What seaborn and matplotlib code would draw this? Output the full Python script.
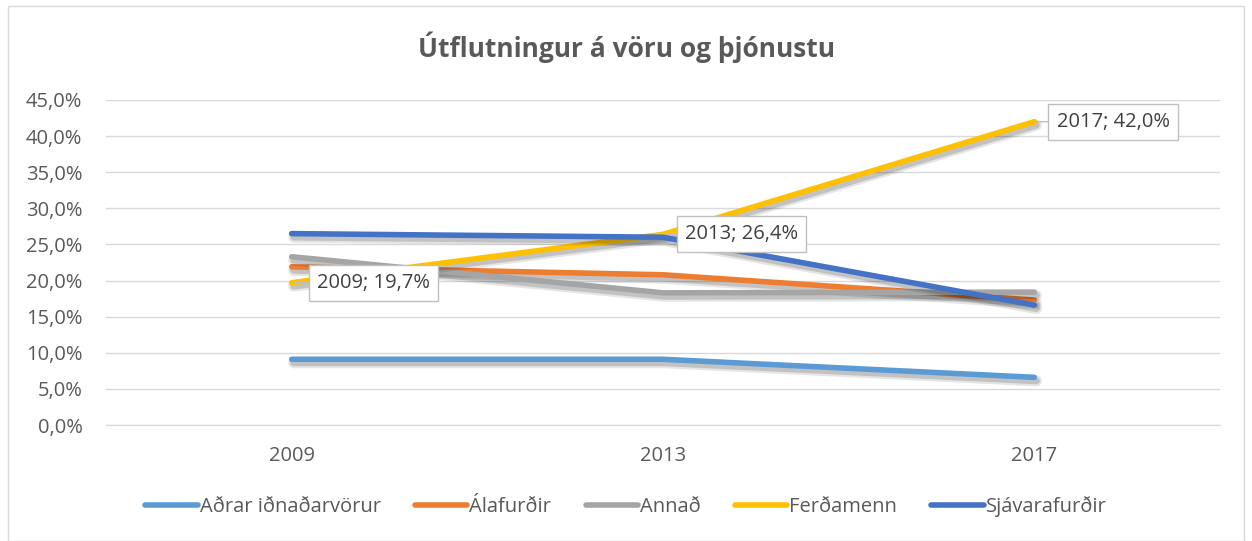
import numpy as np
import pandas as pd
import matplotlib.pyplot as plt
import matplotlib.patheffects as pe
import seaborn as sns
from matplotlib.ticker import FuncFormatter

# Data
years = ["2009", "2013", "2017"]
adrar = [9.1, 9.1, 6.6]
alafurdir = [21.9, 20.8, 17.3]
annad = [23.3, 18.3, 18.4]
ferdamenn = [19.7, 26.4, 42.0]
sjavarafurdir = [26.5, 26.0, 16.6]

series_names = ["Aðrar iðnaðarvörur", "Álafurðir", "Annað", "Ferðamenn", "Sjávarafurðir"]
series_values = [adrar, alafurdir, annad, ferdamenn, sjavarafurdir]
colors = ["#5B9BD5", "#ED7D31", "#A5A5A5", "#FFC000", "#4472C4"]

rows = []
for name, vals in zip(series_names, series_values):
    for yr, v in zip(years, vals):
        rows.append({"Ár": yr, "Hlutfall": v, "Flokkur": name})
df = pd.DataFrame(rows)

sns.set_style("white")
plt.rcParams["font.family"] = ["Open Sans", "DejaVu Sans"]

fig = plt.figure(figsize=(12.52, 5.41), dpi=100)
ax = fig.add_axes([106 / 1252, 1 - 425 / 541, (1220 - 106) / 1252, (425 - 100) / 541])

sns.lineplot(data=df, x="Ár", y="Hlutfall", hue="Flokkur", hue_order=series_names,
             palette=colors, linewidth=4, ax=ax, legend=True,
             solid_capstyle="round")
# soft drop shadow like the original
for line in ax.get_lines():
    line.set_path_effects([
        pe.SimpleLineShadow(offset=(1.5, -2.5), alpha=0.10, shadow_color="#000000", linewidth=8),
        pe.SimpleLineShadow(offset=(1.5, -2.5), alpha=0.15, shadow_color="#000000", linewidth=5),
        pe.Normal()])

ax.set_xlim(-0.5, 2.5)
ax.set_ylim(0, 45)
ax.set_yticks(np.arange(0, 46, 5))
ax.yaxis.set_major_formatter(FuncFormatter(lambda v, p: f"{v:.1f}%".replace(".", ",")))
ax.grid(axis="y", color="#D9D9D9", linewidth=1)
ax.set_axisbelow(True)
for s in ["top", "right", "left"]:
    ax.spines[s].set_visible(False)
ax.spines["bottom"].set_color("#D9D9D9")
ax.tick_params(axis="both", length=0, labelsize=14.5, labelcolor="#595959")
ax.tick_params(axis="y", pad=17)
ax.tick_params(axis="x", pad=15)
ax.set_xlabel("")
ax.set_ylabel("")

fig.text(0.5, 1 - 47 / 541, "Útflutningur á vöru og þjónustu", ha="center", va="center",
         fontsize=19, fontweight="bold", color="#595959")

# data labels for Ferðamenn
offsets = [(18, 0), (16, 0), (16, 0)]
for i, (yr, v) in enumerate(zip(years, ferdamenn)):
    lbl = f"{yr}; {v:.1f}%".replace(".", ",")
    ax.annotate(lbl, xy=(i, v), xytext=offsets[i], textcoords="offset points",
                ha="left", va="center", fontsize=14.5, color="#404040",
                bbox=dict(boxstyle="square,pad=0.4", fc="white", ec="#BFBFBF", lw=1),
                arrowprops=dict(arrowstyle="-", color="#BFBFBF", lw=1, shrinkA=0, shrinkB=2))

handles, labels = ax.get_legend_handles_labels()
ax.get_legend().remove()
leg = fig.legend(handles, labels, loc="center", bbox_to_anchor=(0.5, 1 - 507 / 541),
                 ncol=5, frameon=False, fontsize=14.5, handlelength=2.6, handletextpad=0.1,
                 columnspacing=1.7)
for t in leg.get_texts():
    t.set_color("#595959")
for h in leg.get_lines():
    h.set_linewidth(4)
    h.set_solid_capstyle("round")
    h.set_path_effects([])

# outer chart border
fig.patches.append(plt.Rectangle((8 / 1252, 0.0), 1 - 16 / 1252, 1 - 6 / 541, transform=fig.transFigure,
                                 fill=False, ec="#D9D9D9", lw=1))

fig.savefig("out.png", dpi=100)
